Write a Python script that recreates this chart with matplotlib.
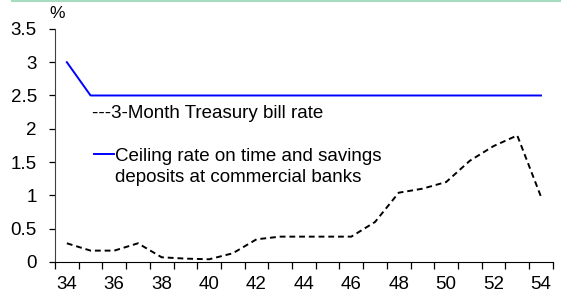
import matplotlib
matplotlib.use("Agg")
import matplotlib.pyplot as plt
from matplotlib.lines import Line2D

plt.rcParams['font.family'] = ['Liberation Sans', 'DejaVu Sans']

years = list(range(34, 55))
tbill = [0.28, 0.17, 0.17, 0.28, 0.07, 0.05, 0.04, 0.13, 0.34, 0.38, 0.38,
         0.38, 0.38, 0.60, 1.04, 1.10, 1.20, 1.52, 1.74, 1.90, 0.98]
ceiling = [3.0] + [2.5] * 20
tick_labels = [str(y) for y in range(34, 55, 2)]

fs = 13.5

fig = plt.figure(figsize=(5.67, 2.98), dpi=100)
ax = fig.add_axes([0.097, 0.121, 0.878, 0.782])

ax.plot(years, tbill, color='black', lw=1.4, linestyle=(0, (3.0, 2.0)))
ax.plot(years, ceiling, color='#0000ff', lw=1.4)

ax.set_xlim(33.5, 54.5)
ax.set_ylim(0, 3.5)
ax.set_yticks([0, 0.5, 1, 1.5, 2, 2.5, 3, 3.5])
ax.set_yticklabels(['0', '0.5', '1', '1.5', '2', '2.5', '3', '3.5'])
# ticks at category boundaries, labels at centres
ax.set_xticks([y + 0.5 for y in range(33, 55)])
ax.set_xticklabels([])
ax.set_xticks(list(range(34, 55, 2)), minor=True)
ax.set_xticklabels(tick_labels, minor=True)
ax.tick_params(axis='x', which='minor', length=0, labelsize=fs, pad=10)
ax.tick_params(axis='x', which='major', length=5, width=0.9, direction='out')
ax.tick_params(axis='y', length=4, width=0.9, labelsize=fs, pad=9)

for s in ['top', 'right']:
    ax.spines[s].set_visible(False)
ax.spines['left'].set_color('#404040')
ax.spines['bottom'].set_color('black')

fig.text(57 / 567, 1 - 14 / 298, '%', ha='center', va='center', fontsize=12.5)

# legend drawn as text like the original
fig.text(92 / 567, 1 - 118 / 298, '---3-Month Treasury bill rate', ha='left', va='baseline', fontsize=fs)
fig.add_artist(Line2D([94 / 567, 114 / 567], [1 - 154 / 298, 1 - 154 / 298], color='#0000ff', lw=1.4))
fig.text(115 / 567, 1 - 161 / 298, 'Ceiling rate on time and savings', ha='left', va='baseline', fontsize=fs)
fig.text(115 / 567, 1 - 182 / 298, 'deposits at commercial banks', ha='left', va='baseline', fontsize=fs)

fig.add_artist(Line2D([12 / 567, 560 / 567], [0.998, 0.998], color='#a8dcc0', lw=1.5))

fig.savefig('out.png', dpi=100)
